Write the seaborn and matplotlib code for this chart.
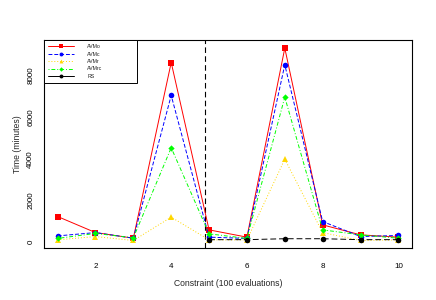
import numpy as np
import pandas as pd
import matplotlib
matplotlib.use("Agg")
import matplotlib.pyplot as plt
from matplotlib.lines import Line2D
import seaborn as sns

# ===== DATA =====
constraints = [1, 2, 3, 4, 5, 6, 7, 8, 9, 10]
avmo = [1230, 460, 190, 8620, 590, 240, 9310, 830, 350, 240]
avmc = [300, 460, 190, 7040, 240, 180, 8510, 990, 270, 320]
avmr = [110, 270, 80, 1200, 110, 110, 3980, 460, 80, 110]
avmrc = [180, 420, 210, 4530, 400, 180, 6960, 590, 350, 190]
rs = [np.nan, np.nan, np.nan, np.nan, 120, 120, 165, 165, 120, 120]

series_names = ['AVMo', 'AVMc', 'AVMr', 'AVMrc', 'RS']
series_values = [avmo, avmc, avmr, avmrc, rs]
colors = ['#FF0000', '#0000FF', '#FFD700', '#00FF00', '#000000']
linestyles = ['-', (0, (4, 2)), (0, (1, 2)), (0, (1, 2, 4, 2)), (0, (6, 3))]
legend_ls = ['-', (0, (4, 2)), (0, (1, 2)), (0, (1, 2, 4, 2)), '-']
markers = ['s', 'o', '^', 'D', 'o']
msizes = [4, 4, 4, 3.2, 4]

sns.set_style("white")
plt.rcParams['font.family'] = ['Liberation Sans', 'DejaVu Sans']

fig = plt.figure(figsize=(4.36, 3.0), dpi=100)
ax = fig.add_axes([44 / 436, 1 - 248 / 300, 368 / 436, 208 / 300])

# vertical separator
ax.axvline(4.9, color='black', lw=0.8, linestyle=(0, (5, 3)), zorder=1)

for name, vals, c, ls, m, ms in zip(series_names, series_values, colors,
                                    linestyles, markers, msizes):
    df = pd.DataFrame({'x': constraints, 'y': vals}).dropna()
    sns.lineplot(data=df, x='x', y='y', ax=ax, color=c, linestyle=ls,
                 marker=m, markersize=ms, markeredgewidth=0, lw=0.7,
                 legend=False, zorder=3)

ax.set_xlim(0.64, 10.36)
ax.set_ylim(-280, 9700)
ax.set_xticks([2, 4, 6, 8, 10])
ax.set_yticks([0, 2000, 4000, 6000, 8000])
ax.set_yticklabels(['0', '2000', '4000', '6000', '8000'], rotation=90, va='center')
ax.tick_params(axis='both', direction='out', length=4, width=0.6,
               labelsize=5.8, colors='black')
ax.tick_params(axis='y', pad=3)
ax.tick_params(axis='x', pad=6.5)
ax.set_xlabel('Constraint (100 evaluations)', fontsize=6.2, labelpad=6.5)
ax.set_ylabel('Time (minutes)', fontsize=6.2, labelpad=4)
for sp in ax.spines.values():
    sp.set_color('black')
    sp.set_linewidth(0.8)
    sp.set_visible(True)

handles = [Line2D([0], [0], color=c, linestyle=ls, marker=m, markersize=ms * 0.7,
                  markeredgewidth=0, lw=0.7)
           for c, ls, m, ms in zip(colors, legend_ls, markers, msizes)]
leg = ax.legend(handles, series_names, loc='upper left',
                bbox_to_anchor=(0, 0.79, 0.2527, 0.21), mode='expand',
                borderaxespad=0, fontsize=3.8, frameon=True, fancybox=False,
                handlelength=4.9, handletextpad=2.5, labelspacing=0.45,
                borderpad=0.8, framealpha=1)
leg.get_frame().set_edgecolor('black')
leg.get_frame().set_linewidth(0.7)

fig.savefig('out.png', dpi=100)
